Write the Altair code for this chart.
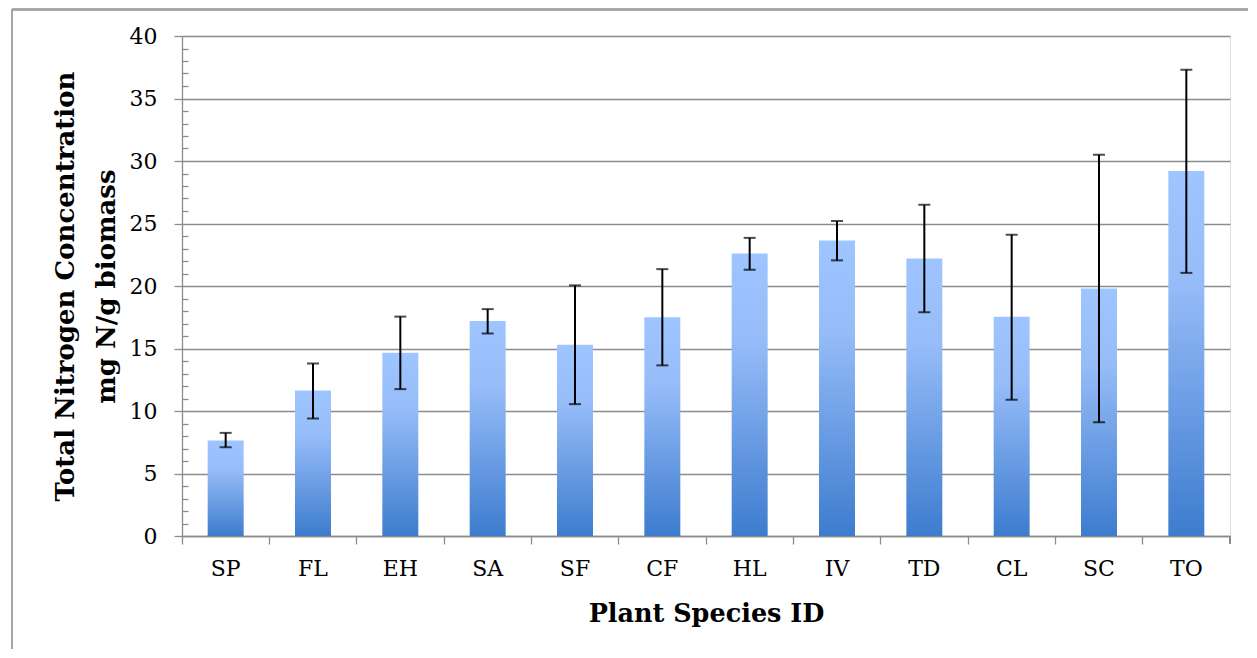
import altair as alt
import pandas as pd

species = ["SP", "FL", "EH", "SA", "SF", "CF", "HL", "IV", "TD", "CL", "SC", "TO"]
mean_n = [7.65, 11.65, 14.66, 17.2, 15.3, 17.5, 22.6, 23.65, 22.2, 17.55, 19.8, 29.2]
low_n = [7.1, 9.4, 11.75, 16.2, 10.55, 13.65, 21.3, 22.05, 17.9, 10.9, 9.1, 21.05]
high_n = [8.25, 13.8, 17.55, 18.15, 20.05, 21.35, 23.85, 25.2, 26.5, 24.1, 30.5, 37.3]
y_major = [0, 5, 10, 15, 20, 25, 30, 35, 40]
y_minor = [v for v in range(0, 41) if v % 5 != 0]

df = pd.DataFrame({"sp": species, "mean": mean_n, "lo": low_n, "hi": high_n})

W, H = 1048, 500
GRAY = "#8c8c8c"
FONT = "DejaVu Serif"

xenc = alt.X("sp:N", sort=species,
             scale=alt.Scale(paddingInner=0, paddingOuter=0),
             axis=alt.Axis(title="Plant Species ID", titleFont=FONT, titleFontSize=25.5,
                           titleFontWeight="bold", titleColor="black",
                           titleBaseline="alphabetic", titleY=85, titleX=W / 2,
                           labelFont=FONT, labelFontSize=22, labelColor="black",
                           labelAngle=0, labelPadding=14, bandPosition=0,
                           tickSize=8, tickColor=GRAY, tickWidth=1.3,
                           domainColor=GRAY, domainWidth=1.3, grid=False))

yscale = alt.Scale(domain=[0, 40], nice=False, zero=True)

grad = alt.LinearGradient(
    gradient="linear", x1=0, x2=0, y1=0, y2=1,
    stops=[alt.GradientStop(offset=0, color="#9ec5ff"),
           alt.GradientStop(offset=0.3, color="#97bdf9"),
           alt.GradientStop(offset=1, color="#3d7cce")])

bars = alt.Chart(df).mark_bar(color=grad, width=alt.RelativeBandSize(0.412)).encode(
    x=xenc,
    y=alt.Y("mean:Q", scale=yscale,
            axis=alt.Axis(values=y_major, title=["Total Nitrogen Concentration", "mg N/g biomass"],
                          titleFont=FONT, titleFontSize=26, titleFontWeight="bold",
                          titleColor="black", titleAngle=270, titleBaseline="middle",
                          titleLineHeight=41, titleX=-117, titleY=H / 2, titleAlign="center",
                          labelFont=FONT, labelFontSize=22, labelColor="black",
                          labelPadding=17, tickSize=8, tickColor=GRAY, tickWidth=1.3,
                          domainColor=GRAY, domainWidth=1.3,
                          grid=True, gridColor=GRAY, gridWidth=1.3)),
)

err = alt.Chart(df).mark_rule(color="black", strokeWidth=2).encode(
    x=alt.X("sp:N", sort=species),
    y=alt.Y("lo:Q", scale=yscale,
            axis=alt.Axis(orient="left", values=y_minor, offset=-6, tickSize=6,
                          tickColor=GRAY, tickWidth=1.3, labels=False, domain=False,
                          grid=False, title=None)),
    y2="hi:Q",
)

cap_hi = alt.Chart(df).mark_tick(color="black", thickness=2, size=12).encode(
    x=alt.X("sp:N", sort=species), y=alt.Y("hi:Q", scale=yscale, axis=None))
cap_lo = alt.Chart(df).mark_tick(color="black", thickness=2, size=12).encode(
    x=alt.X("sp:N", sort=species), y=alt.Y("lo:Q", scale=yscale, axis=None))

end_tick = alt.Chart(df).mark_rule(color=GRAY, strokeWidth=1.3).encode(
    x=alt.value(W), y=alt.value(H), y2=alt.value(H + 8))

border_top = alt.Chart(df).mark_rule(color="#a6a6a6", strokeWidth=1.5).encode(
    x=alt.value(-170), x2=alt.value(1066), y=alt.value(-26.5))
border_left = alt.Chart(df).mark_rule(color="#a6a6a6", strokeWidth=1.5).encode(
    x=alt.value(-170), y=alt.value(-26.5), y2=alt.value(613))

chart = alt.layer(bars, err, cap_hi, cap_lo, end_tick, border_top, border_left).resolve_axis(
    y="independent").properties(
    width=W, height=H,
    padding={"left": 3, "top": 0, "right": 0, "bottom": 0},
).configure_view(stroke=None).configure(background="white")

chart.save("out.html", embed_options={"renderer": "svg", "actions": False})
